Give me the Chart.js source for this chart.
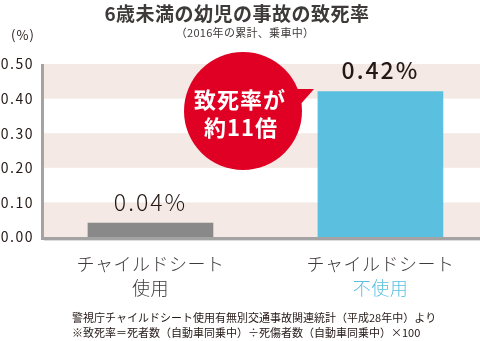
<!DOCTYPE html>
<html lang="ja">
<head>
<meta charset="utf-8">
<script src="https://cdn.jsdelivr.net/npm/chart.js@4.4.1/dist/chart.umd.min.js"></script>
<style>
  html, body { margin: 0; padding: 0; background: #fff; }
  .wrap { width: 480px; height: 341px; position: relative; }
</style>
</head>
<body>
<div class="wrap"><canvas id="fatalityChart"></canvas></div>
<script>
// ==== DATA ====
const categories = [["チャイルドシート", "使用"], ["チャイルドシート", "不使用"]];
const fatalityRates = [0.04, 0.42];
const yTicks = [0, 0.1, 0.2, 0.3, 0.4, 0.5];
const chartTitle = "6歳未満の幼児の事故の致死率";
const chartSubtitle = "（2016年の累計、乗車中）";
const unitLabel = "(%)";
const calloutLines = ["致死率が", "約11倍"];
const sourceNotes = [
  "警視庁チャイルドシート使用有無別交通事故関連統計（平成28年中）より",
  "※致死率＝死者数（自動車同乗中）÷死傷者数（自動車同乗中）×100",
];

// ==== STYLE ====
const FONT = '"Noto Sans CJK JP", "Noto Sans", sans-serif';
const TEXT_DARK = "#3e3a39";
const TEXT_TICK = "#231815";
const BAND = "#f4e9e4";
const AXIS = "#a3a3a3";
const RED = "#df0024";
const barColors = ["#898989", "#5bc0df"];
const secondLineColors = [TEXT_DARK, "#5bc0df"];

function drawText(ctx, text, x, y, font, color, align, spacing) {
  ctx.save();
  ctx.font = font;
  ctx.fillStyle = color;
  ctx.textAlign = align || "center";
  ctx.textBaseline = "middle";
  ctx.letterSpacing = spacing || "0px";
  ctx.fillText(text, x, y);
  ctx.restore();
}

// striped background bands + axis lines
const bandsPlugin = {
  id: "bands",
  beforeDatasetsDraw(chart) {
    const { ctx, chartArea } = chart;
    const y = chart.scales.y;
    ctx.save();
    ctx.fillStyle = BAND;
    for (let i = 0; i < yTicks.length - 1; i += 2) {
      const top = y.getPixelForValue(yTicks[i + 1]);
      const bottom = y.getPixelForValue(yTicks[i]);
      ctx.fillRect(chartArea.left, top, chartArea.right - chartArea.left, bottom - top);
    }
    ctx.restore();
  },
  afterDatasetsDraw(chart) {
    const { ctx, chartArea } = chart;
    ctx.save();
    ctx.strokeStyle = AXIS;
    ctx.lineWidth = 3;
    ctx.beginPath();
    ctx.moveTo(chartArea.left - 1.5, chartArea.top);
    ctx.lineTo(chartArea.left - 1.5, chartArea.bottom + 3);
    ctx.moveTo(chartArea.left - 3, chartArea.bottom + 1.5);
    ctx.lineTo(chartArea.right, chartArea.bottom + 1.5);
    ctx.stroke();
    ctx.strokeStyle = "#dcdcdc";
    ctx.lineWidth = 1;
    ctx.beginPath();
    ctx.moveTo(chartArea.left, chartArea.bottom + 3.5);
    ctx.lineTo(chartArea.right, chartArea.bottom + 3.5);
    ctx.stroke();
    ctx.restore();
  },
};

// titles, value labels, category labels, callout and notes
const labelsPlugin = {
  id: "labels",
  afterDraw(chart) {
    const { ctx, chartArea } = chart;
    const x = chart.scales.x;

    drawText(ctx, chartTitle, 237, 14, "bold 19px " + FONT, TEXT_DARK, "center", "0.5px");
    drawText(ctx, chartSubtitle, 245, 33, "11px " + FONT, TEXT_DARK, "center", "0.3px");
    drawText(ctx, unitLabel, 23, 35, "13px " + FONT, TEXT_TICK, "center", "1px");

    // value labels above bars
    const bars = chart.getDatasetMeta(0).data;
    bars.forEach((bar, i) => {
      const weight = i === 1 ? "500 " : "300 ";
      drawText(ctx, fatalityRates[i].toFixed(2) + "%", bar.x, bar.y - 21,
        weight + "23px " + FONT, TEXT_TICK, "center", "2px");
    });

    // category labels under the axis
    categories.forEach((lines, i) => {
      const cx = x.getPixelForValue(i + 1);
      drawText(ctx, lines[0], cx, chartArea.bottom + 27, "300 18px " + FONT, TEXT_DARK, "center", "0.5px");
      drawText(ctx, lines[1], cx, chartArea.bottom + 51, "300 18px " + FONT, secondLineColors[i], "center", "0.5px");
    });

    // speech bubble
    ctx.save();
    ctx.fillStyle = RED;
    ctx.beginPath();
    ctx.arc(243, 111, 59, 0, Math.PI * 2);
    ctx.fill();
    ctx.beginPath();
    ctx.moveTo(284, 89);
    ctx.lineTo(314, 89);
    ctx.lineTo(292, 114);
    ctx.closePath();
    ctx.fill();
    ctx.restore();
    drawText(ctx, calloutLines[0], 240, 100, "bold 22px " + FONT, "#fff", "center", "1px");
    drawText(ctx, calloutLines[1], 241, 128, "bold 22px " + FONT, "#fff", "center", "1px");

    sourceNotes.forEach((line, i) => {
      drawText(ctx, line, 72, 318 + i * 15, "11px " + FONT, TEXT_TICK, "left");
    });
  },
};

const tickSpacing = {
  id: "tickSpacing",
  beforeDraw(chart) { chart.ctx.letterSpacing = "1.5px"; },
  afterDraw(chart) { chart.ctx.letterSpacing = "0px"; },
};

new Chart(document.getElementById("fatalityChart").getContext("2d"), {
  type: "bar",
  data: {
    datasets: [
      {
        data: fatalityRates.map((v, i) => ({ x: i + 1, y: v })),
        backgroundColor: barColors,
        borderWidth: 0,
        barThickness: 125,
      },
    ],
  },
  options: {
    responsive: true,
    maintainAspectRatio: false,
    animation: false,
    layout: { padding: { top: 64, left: 0, right: 0, bottom: 0 } },
    plugins: {
      legend: { display: false },
      tooltip: { enabled: false },
    },
    scales: {
      x: {
        type: "linear",
        offset: false,
        min: 0.537,
        max: 2.433,
        grid: { display: false, drawTicks: false },
        border: { display: false },
        ticks: { display: false },
        afterFit(scale) { scale.height = 104; },
      },
      y: {
        min: 0,
        max: 0.5,
        grid: { display: false, drawTicks: false },
        border: { display: false },
        afterBuildTicks(scale) { scale.ticks = yTicks.map((v) => ({ value: v })); },
        ticks: {
          padding: 10,
          color: TEXT_TICK,
          font: { family: FONT, size: 14 },
          callback: (v) => v.toFixed(2),
        },
        afterFit(scale) { scale.width = 44; },
      },
    },
  },
  plugins: [tickSpacing, bandsPlugin, labelsPlugin],
});
</script>
</body>
</html>
